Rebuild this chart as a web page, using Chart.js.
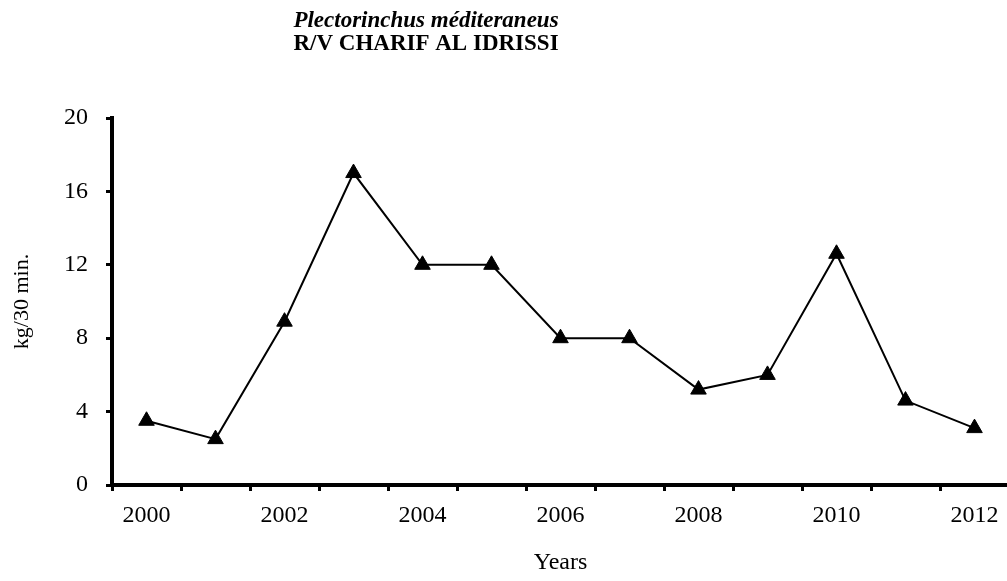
<!DOCTYPE html>
<html>
<head>
<meta charset="utf-8">
<script src="https://cdn.jsdelivr.net/npm/chart.js@4/dist/chart.umd.min.js"></script>
<style>
  html, body { margin: 0; padding: 0; background: #fff; overflow: hidden; }
  /* plot runs a few px past the right edge, like the original */
  #wrap { width: 1019px; height: 581px; }
</style>
</head>
<body>
<div id="wrap"><canvas id="c"></canvas></div>
<script>
const years = ["2000","2001","2002","2003","2004","2005","2006","2007","2008","2009","2010","2011","2012"];
const catch30 = [3.5, 2.5, 8.9, 17.0, 12.0, 12.0, 8.0, 8.0, 5.2, 6.0, 12.6, 4.6, 3.1];
const yTicks = [0, 4, 8, 12, 16, 20];
const titleLines = ["Plectorinchus méditeraneus", "R/V CHARIF AL IDRISSI"];

const serif = "'Liberation Serif', 'Times New Roman', serif";

/* two-line title, sits left of the plot centre */
const titlePlugin = {
  id: "twoTitles",
  afterDraw(chart) {
    const ctx = chart.ctx;
    ctx.save();
    ctx.fillStyle = "#000";
    ctx.textAlign = "center";
    ctx.textBaseline = "alphabetic";
    ctx.font = "italic bold 23px " + serif;
    ctx.fillText(titleLines[0], 426, 27);
    ctx.font = "bold 23px " + serif;
    ctx.fillText(titleLines[1], 426, 50);
    ctx.restore();
  }
};

new Chart(document.getElementById("c"), {
  type: "line",
  data: {
    labels: years,
    datasets: [{
      data: catch30,
      borderColor: "#000",
      borderWidth: 2,
      backgroundColor: "#000",
      pointStyle: "triangle",
      pointRadius: 9,
      pointHoverRadius: 9,
      pointBorderWidth: 1,
      tension: 0,
      fill: false
    }]
  },
  options: {
    responsive: true,
    maintainAspectRatio: false,
    animation: false,
    layout: { padding: { top: 118, right: -3, bottom: 0, left: 0 } },
    plugins: { legend: { display: false }, tooltip: { enabled: false } },
    scales: {
      x: {
        type: "category",
        offset: true,
        afterFit(scale) {
          scale.height = 96;
          scale.paddingLeft = 0;
          scale.paddingRight = 0;
        },
        border: { display: true, color: "#000", width: 4 },
        grid: { display: true, offset: true, drawOnChartArea: false, drawTicks: true,
                tickLength: 6, tickWidth: 3, tickColor: "#000" },
        ticks: {
          autoSkip: false, maxRotation: 0, color: "#000", padding: 10,
          font: { family: serif, size: 24 },
          callback(v, i) { return i % 2 === 0 ? years[i] : ""; }
        },
        title: { display: true, text: "Years", color: "#000",
                 font: { family: serif, size: 24 }, padding: { top: 12 } }
      },
      y: {
        min: 0, max: 20,
        afterFit(scale) { scale.width = 112; },
        afterBuildTicks(scale) { scale.ticks = yTicks.map(v => ({ value: v })); },
        border: { display: true, color: "#000", width: 4 },
        grid: { display: true, drawOnChartArea: false, drawTicks: true,
                tickLength: 6, tickWidth: 3, tickColor: "#000" },
        ticks: { color: "#000", padding: 18, font: { family: serif, size: 24 } },
        title: { display: true, text: "kg/30 min.", color: "#000",
                 font: { family: serif, size: 22 }, padding: { bottom: 0, top: 9 } }
      }
    }
  },
  plugins: [titlePlugin]
});
</script>
</body>
</html>
